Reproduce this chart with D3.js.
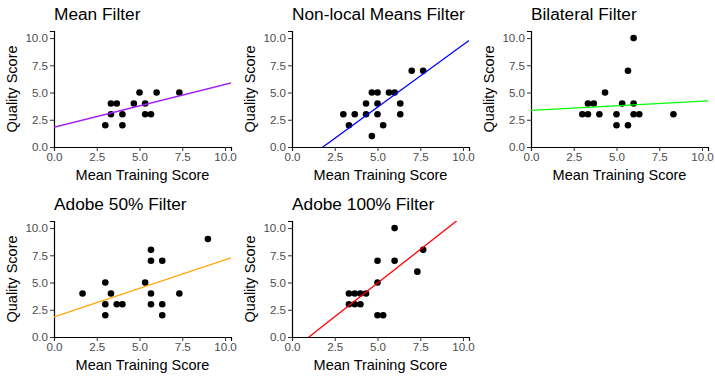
<!DOCTYPE html>
<html>
<head>
<meta charset="utf-8">
<style>
body { margin: 0; background: #fff; }
text { font-family: "Liberation Sans", Arial, sans-serif; }
</style>
</head>
<body>
<script src="https://d3js.org/d3.v7.min.js"></script>
<script>

var titles = ["Mean Filter", "Non-local Means Filter", "Bilateral Filter", "Adobe 50% Filter", "Adobe 100% Filter"];
var lineColors = ["#a020f0", "#0000ff", "#00ff00", "#ffa500", "#ff0000"];

// mean training score (x) and quality score (y) per filter
var meanX = [3, 3.33, 3.33, 3.67, 4, 4, 4.67, 5, 5.33, 5.33, 5.67, 6, 7.33];
var meanY = [2, 4, 3, 4, 3, 2, 4, 5, 4, 3, 3, 5, 5];
var nlmX = [3, 3.33, 3.67, 4.33, 4.33, 4.67, 4.67, 5, 5, 5, 5.33, 5.67, 6, 6.33, 6.33, 7, 7.67];
var nlmY = [3, 2, 3, 4, 3, 5, 1, 5, 4, 3, 2, 5, 5, 4, 3, 7, 7];
var bilX = [3, 3.33, 3.33, 3.67, 4, 4.33, 5, 5, 5.33, 5.67, 5.67, 6, 6, 6, 6.33, 8.33];
var bilY = [3, 4, 3, 4, 3, 5, 3, 2, 4, 7, 2, 10, 4, 3, 3, 3];
var a50X = [1.67, 3, 3, 3, 3.33, 3.67, 4, 5.33, 5.67, 5.67, 5.67, 5.67, 6.33, 6.33, 6.33, 7.33, 9];
var a50Y = [4, 5, 3, 2, 4, 3, 3, 5, 8, 7, 4, 3, 7, 3, 2, 4, 9];
var a100X = [3.33, 3.33, 3.67, 3.67, 4, 4, 4.33, 5, 5, 5, 5.33, 6, 6, 7.33, 7.67];
var a100Y = [4, 3, 4, 3, 4, 3, 4, 7, 5, 2, 2, 10, 7, 6, 8];

// fitted lines
var fitIntercept = [1.81, -2.07, 3.37, 1.85, -1.22];
var fitSlope = [0.393, 1.145, 0.084, 0.523, 1.234];

var xTicks = [0, 2.5, 5, 7.5, 10];
var yTicks = [0, 2.5, 5, 7.5, 10];

var allX = [meanX, nlmX, bilX, a50X, a100X];
var allY = [meanY, nlmY, bilY, a50Y, a100Y];

var width = 715, height = 381;
var colLeft = [54, 292, 531], rowTop = [31, 221];
var pw = 177, ph = 116;
var xMax = 10.35, yMax = 10.65;

var svg = d3.select("body").append("svg")
    .attr("width", width)
    .attr("height", height);

var x = d3.scaleLinear().domain([0, xMax]).range([0, pw]);
var y = d3.scaleLinear().domain([0, yMax]).range([ph, 0]);

svg.append("defs").append("clipPath").attr("id", "clip")
  .append("rect").attr("width", pw).attr("height", ph);

titles.forEach(function(title, i) {
  var g = svg.append("g")
      .attr("transform", "translate(" + colLeft[i % 3] + "," + rowTop[Math.floor(i / 3)] + ")");

  var pts = allX[i].map(function(v, j) { return {x: v, y: allY[i][j]}; });

  var xa = g.append("g").attr("transform", "translate(0," + ph + ")")
      .call(d3.axisBottom(x).tickValues(xTicks).tickFormat(d3.format(".1f")).tickSizeOuter(0).tickSize(4).tickPadding(2));
  var ya = g.append("g")
      .call(d3.axisLeft(y).tickValues(yTicks).tickFormat(d3.format(".1f")).tickSizeOuter(0).tickSize(4).tickPadding(2));
  [xa, ya].forEach(function(a) {
    a.select(".domain").attr("stroke", "#000").attr("stroke-width", 1.2);
    a.selectAll(".tick line").attr("stroke", "#333").attr("stroke-width", 1);
    a.selectAll(".tick text").attr("fill", "#4d4d4d").style("font-size", "11.6px")
      .style("font-family", "'Liberation Sans', Arial, sans-serif");
  });

  g.selectAll(".pt").data(pts).enter().append("circle")
      .attr("class", "pt")
      .attr("cx", function(d) { return x(d.x); })
      .attr("cy", function(d) { return y(d.y); })
      .attr("r", 3.3)
      .attr("fill", "#000");

  var fit = [0, xMax].map(function(v) { return {x: v, y: fitIntercept[i] + fitSlope[i] * v}; });
  g.append("path")
      .datum(fit)
      .attr("clip-path", "url(#clip)")
      .attr("fill", "none")
      .attr("stroke", lineColors[i])
      .attr("stroke-width", 1.3)
      .attr("d", d3.line().x(function(d) { return x(d.x); }).y(function(d) { return y(d.y); }));

  g.append("text")
      .attr("x", 0)
      .attr("y", -11)
      .style("font-size", "17.3px")
      .attr("fill", "#000")
      .text(title);

  g.append("text")
      .attr("x", pw / 2)
      .attr("y", ph + 33)
      .attr("text-anchor", "middle")
      .style("font-size", "14.5px")
      .attr("fill", "#000")
      .text("Mean Training Score");

  g.append("text")
      .attr("transform", "translate(-37," + (ph / 2) + ") rotate(-90)")
      .attr("text-anchor", "middle")
      .style("font-size", "14.5px")
      .attr("fill", "#000")
      .text("Quality Score");
});

</script>
</body>
</html>
